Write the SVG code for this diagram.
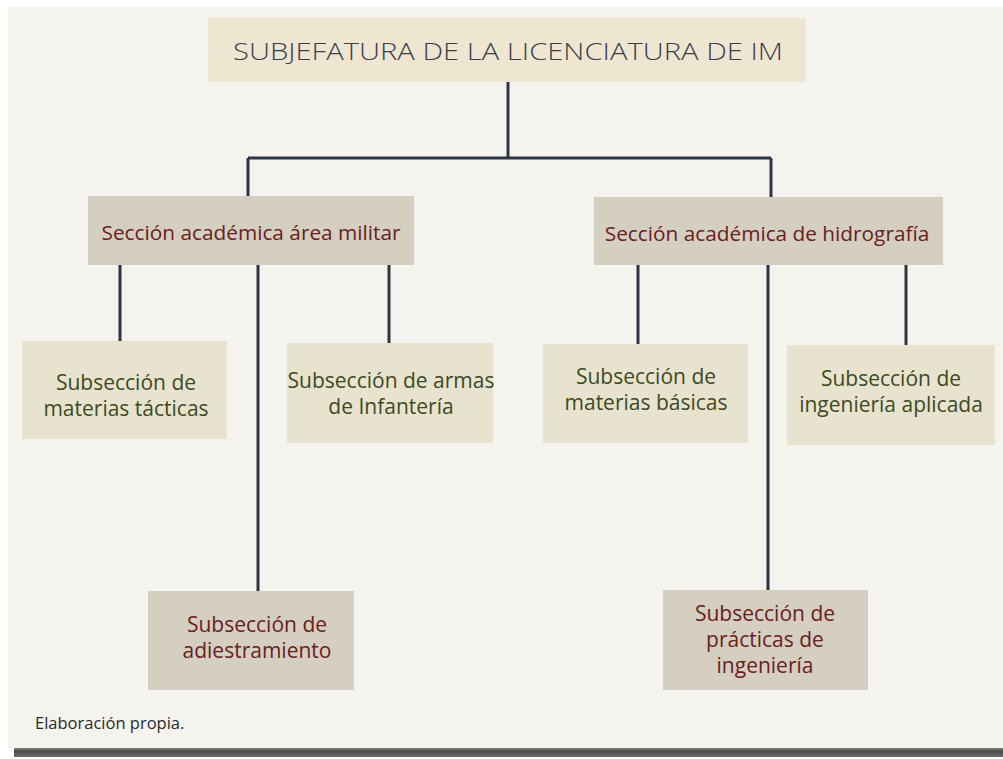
<svg xmlns="http://www.w3.org/2000/svg" width="1003" height="759" viewBox="0 0 1003 759">
<defs>
<linearGradient id="shadow" x1="0" y1="0" x2="0" y2="1">
<stop offset="0" stop-color="#9a9a9a"/>
<stop offset="0.4" stop-color="#4a4a4a"/>
<stop offset="1" stop-color="#6a6a6a"/>
</linearGradient>
<style>
.t{font-family:"Open Sans","Noto Sans",sans-serif;text-anchor:middle}
.top{fill:#3b3f4a;font-size:24px;font-weight:300}
.sec{fill:#6b2020;font-size:20.8px}
.g{fill:#3d4a1f;font-size:21px}
.r{fill:#6b2020;font-size:21px}
.b1{fill:#efe6d2}
.b2{fill:#d4cfc0}
.b3{fill:#e8e3cf}
.c{stroke:#2e3545;stroke-width:3;fill:none}
</style>
</defs>
<rect x="0" y="0" width="1003" height="759" fill="#ffffff"/>
<rect x="14" y="747" width="989" height="10" fill="url(#shadow)"/>
<rect x="8" y="7" width="995" height="741" fill="#f4f3ee"/>
<g id="connectors">
<path class="c" d="M508 82V158M248 158H771M248 158V196M771 158V197"/>
<path class="c" d="M120 265V341M258 265V591M389 265V343"/>
<path class="c" d="M638 265V344M768 265V590M906 265V345"/>
</g>
<g id="n-top">
<rect class="b1" x="208" y="18" width="598" height="64"/>
<text class="t top" x="508" y="60" textLength="550" lengthAdjust="spacingAndGlyphs">SUBJEFATURA DE LA LICENCIATURA DE IM</text>
</g>
<g id="n-militar">
<rect class="b2" x="88" y="196" width="326" height="69"/>
<text class="t sec" x="251" y="240">Sección académica área militar</text>
</g>
<g id="n-hidro">
<rect class="b2" x="594" y="197" width="349" height="68"/>
<text class="t sec" x="767" y="241">Sección académica de hidrografía</text>
</g>
<g id="n-tacticas">
<rect class="b3" x="22" y="341" width="205" height="98"/>
<text class="t g" x="126" y="390">Subsección de</text>
<text class="t g" x="126" y="416">materias tácticas</text>
</g>
<g id="n-infanteria">
<rect class="b3" x="287" y="343" width="206" height="100"/>
<text class="t g" x="391" y="388">Subsección de armas</text>
<text class="t g" x="391" y="414">de Infantería</text>
</g>
<g id="n-basicas">
<rect class="b3" x="543" y="344" width="205" height="99"/>
<text class="t g" x="646" y="384">Subsección de</text>
<text class="t g" x="646" y="410">materias básicas</text>
</g>
<g id="n-aplicada">
<rect class="b3" x="787" y="345" width="208" height="100"/>
<text class="t g" x="891" y="386">Subsección de</text>
<text class="t g" x="891" y="412">ingeniería aplicada</text>
</g>
<g id="n-adiestramiento">
<rect class="b2" x="148" y="591" width="206" height="99"/>
<text class="t r" x="257" y="632">Subsección de</text>
<text class="t r" x="257" y="658">adiestramiento</text>
</g>
<g id="n-practicas">
<rect class="b2" x="663" y="590" width="205" height="100"/>
<text class="t r" x="765" y="621">Subsección de</text>
<text class="t r" x="765" y="647">prácticas de</text>
<text class="t r" x="765" y="673">ingeniería</text>
</g>
<text x="35" y="729" style="font-family:'Open Sans','Noto Sans',sans-serif;font-size:16.5px;fill:#2a2a2a">Elaboración propia.</text>
</svg>
